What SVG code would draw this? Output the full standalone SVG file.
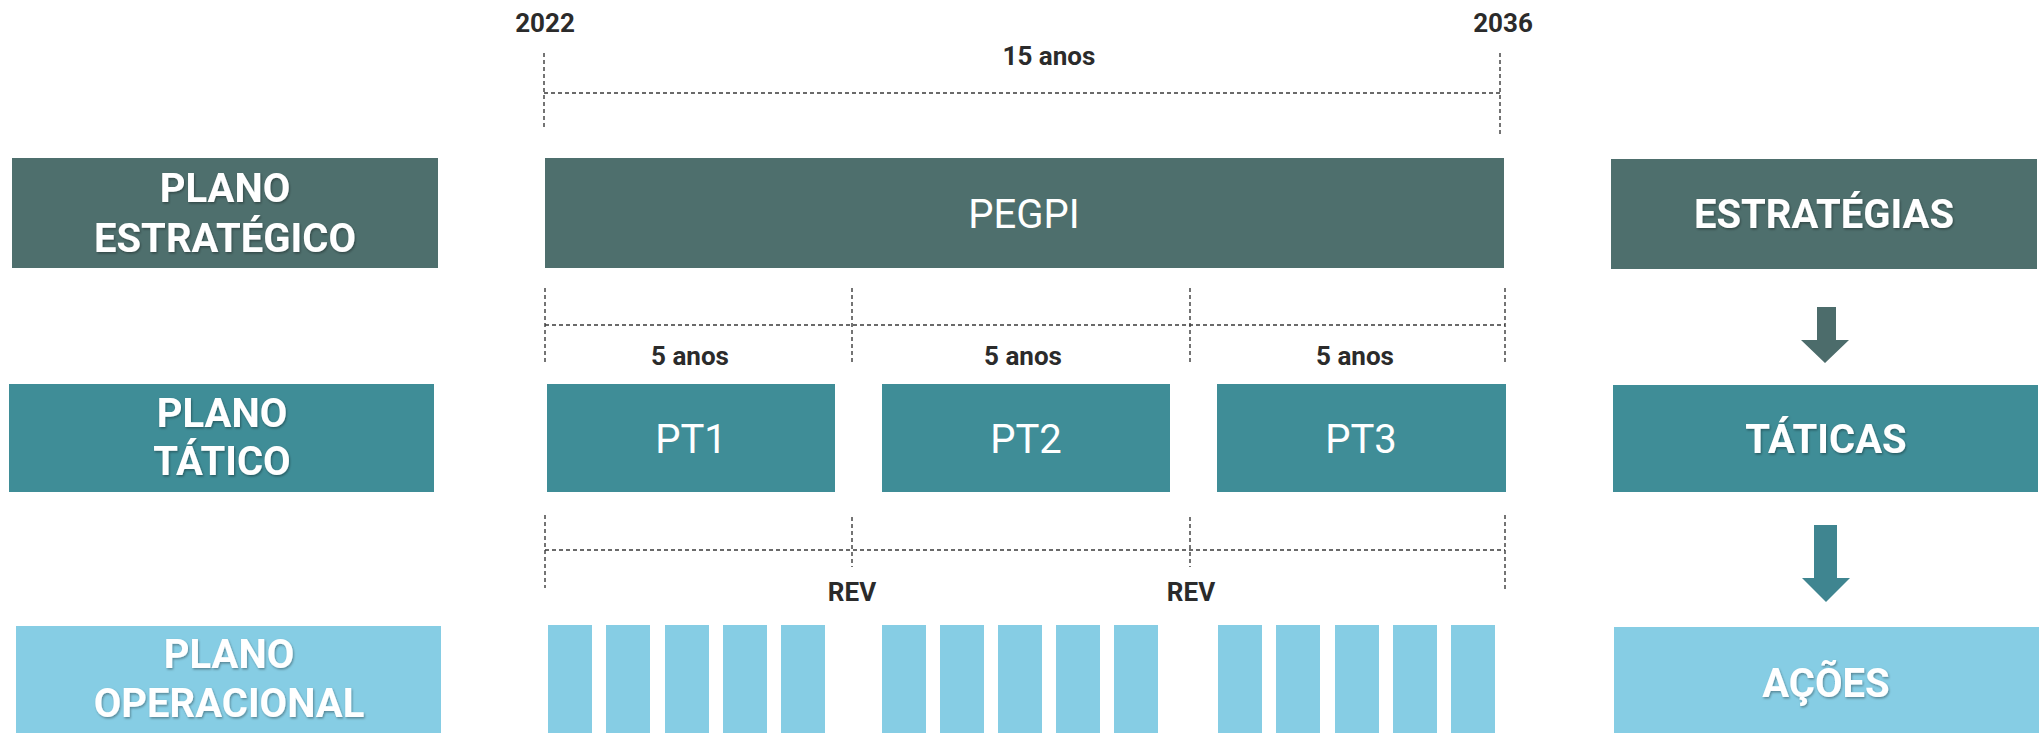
<svg xmlns="http://www.w3.org/2000/svg" width="2040" height="735" viewBox="0 0 2040 735">
<defs>
<filter id="sh" x="-10%" y="-20%" width="120%" height="140%"><feDropShadow dx="1" dy="1.5" stdDeviation="1" flood-color="#000" flood-opacity="0.35"/></filter>
</defs>
<style>
.dk{fill:#4e6f6d}
.tc{fill:#3f8d97}
.lt{fill:#86cde4}
.lbl{font-family:Roboto,"Liberation Sans",sans-serif;font-weight:700;font-size:40px;fill:#fff;text-anchor:middle}
.nm{font-family:Roboto,"Liberation Sans",sans-serif;font-weight:400;font-size:40px;fill:#fff;text-anchor:middle}
.tm{font-family:Roboto,"Liberation Sans",sans-serif;font-weight:700;font-size:26px;fill:#2b2b2b;text-anchor:middle}
.ds{fill:none;stroke:#3a3a3a;stroke-width:1.4;stroke-dasharray:4 3}
</style>
<rect width="2040" height="735" fill="#fff"/>

<g id="plano-estrategico"><rect class="dk" x="12" y="158" width="426" height="110"/><text class="lbl" filter="url(#sh)"><tspan x="225" y="202">PLANO</tspan><tspan x="225" y="252">ESTRATÉGICO</tspan></text></g>
<g id="plano-tatico"><rect class="tc" x="9" y="384" width="425" height="108"/><text class="lbl" filter="url(#sh)"><tspan x="222" y="427">PLANO</tspan><tspan x="222" y="475">TÁTICO</tspan></text></g>
<g id="plano-operacional"><rect class="lt" x="16" y="626" width="425" height="107"/><text class="lbl" filter="url(#sh)"><tspan x="229" y="668">PLANO</tspan><tspan x="229" y="717">OPERACIONAL</tspan></text></g>

<g id="pegpi"><rect class="dk" x="545" y="158" width="959" height="110"/><text class="nm" x="1024" y="228">PEGPI</text></g>
<g id="pt1"><rect class="tc" x="547" y="384" width="288" height="108"/><text class="nm" x="691" y="453">PT1</text></g>
<g id="pt2"><rect class="tc" x="882" y="384" width="288" height="108"/><text class="nm" x="1026" y="453">PT2</text></g>
<g id="pt3"><rect class="tc" x="1217" y="384" width="289" height="108"/><text class="nm" x="1361" y="453">PT3</text></g>

<g id="acoes-bars">
<rect class="lt" x="548" y="625" width="44" height="108"/>
<rect class="lt" x="606" y="625" width="44" height="108"/>
<rect class="lt" x="665" y="625" width="44" height="108"/>
<rect class="lt" x="723" y="625" width="44" height="108"/>
<rect class="lt" x="781" y="625" width="44" height="108"/>
<rect class="lt" x="882" y="625" width="44" height="108"/>
<rect class="lt" x="940" y="625" width="44" height="108"/>
<rect class="lt" x="998" y="625" width="44" height="108"/>
<rect class="lt" x="1056" y="625" width="44" height="108"/>
<rect class="lt" x="1114" y="625" width="44" height="108"/>
<rect class="lt" x="1218" y="625" width="44" height="108"/>
<rect class="lt" x="1276" y="625" width="44" height="108"/>
<rect class="lt" x="1335" y="625" width="44" height="108"/>
<rect class="lt" x="1393" y="625" width="44" height="108"/>
<rect class="lt" x="1451" y="625" width="44" height="108"/>
</g>

<g id="estrategias"><rect class="dk" x="1611" y="159" width="426" height="110"/><text class="lbl" x="1824" y="228" filter="url(#sh)">ESTRATÉGIAS</text></g>
<g id="taticas"><rect class="tc" x="1613" y="385" width="425" height="107"/><text class="lbl" x="1826" y="453" filter="url(#sh)">TÁTICAS</text></g>
<g id="acoes"><rect class="lt" x="1614" y="627" width="425" height="106"/><text class="lbl" x="1826" y="697" filter="url(#sh)">AÇÕES</text></g>

<g id="timeline-labels">
<text class="tm" x="545" y="32">2022</text>
<text class="tm" x="1503" y="32">2036</text>
<text class="tm" x="1049" y="65">15 anos</text>
<text class="tm" x="690" y="365">5 anos</text>
<text class="tm" x="1023" y="365">5 anos</text>
<text class="tm" x="1355" y="365">5 anos</text>
<text class="tm" x="852" y="601">REV</text>
<text class="tm" x="1191" y="601">REV</text>
</g>

<g id="connectors">
<path class="ds" d="M544 53V128M1500 53V135M544 93H1500"/>
<path class="ds" d="M545 288V365M852 288V365M1190 288V365M1505 288V365M545 325H1505"/>
<path class="ds" d="M545 515V588M852 517V567M1190 517V567M1505 515V590M545 550H1505"/>
<polygon fill="#4c6c6b" points="1817,307 1836,307 1836,340 1849,340 1825,363 1801,340 1817,340"/>
<polygon fill="#3f8590" points="1814,525 1837,525 1837,578 1850,578 1826,602 1802,578 1814,578"/>
</g>
</svg>
